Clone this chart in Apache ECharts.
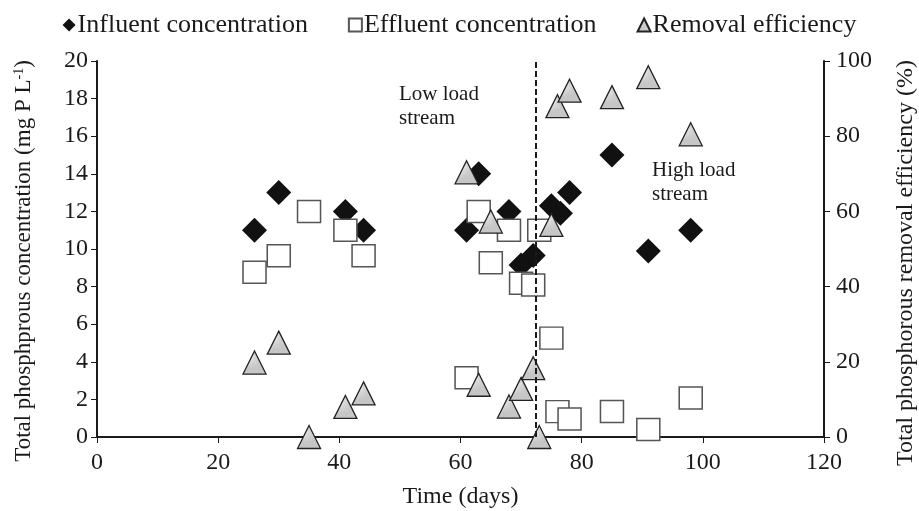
<!DOCTYPE html>
<html>
<head>
<meta charset="utf-8">
<script src="https://cdn.jsdelivr.net/npm/echarts@6/dist/echarts.min.js"></script>
<style>
  html, body { margin: 0; padding: 0; background: #fff; }
  #chart { width: 919px; height: 511px; }
</style>
</head>
<body>
<div id="chart"></div>
<script>
// days of sampling for each series
var influentDays = [26, 30, 41, 44, 61, 63, 68, 70, 72, 75, 76.5, 78, 85, 91, 98];
var influentConc = [11, 13, 12, 11, 11, 14, 12, 9.15, 9.65, 12.3, 11.9, 13, 15, 9.9, 11];

var effluentDays = [26, 30, 35, 41, 44, 61, 63, 65, 68, 70, 72, 73, 75, 76, 78, 85, 91, 98];
var effluentConc = [8.76, 9.64, 12, 11, 9.64, 3.15, 12, 9.27, 11, 8.18, 8.09, 11, 5.26, 1.35, 0.96, 1.36, 0.4, 2.07];

var removalDays = [26, 30, 35, 41, 44, 61, 63, 65, 68, 70, 72, 73, 75, 76, 78, 85, 91, 98];
var removalEff = [19.8, 25.1, 0, 8.0, 11.6, 70.4, 13.9, 57.3, 8.1, 12.8, 18.3, 0, 56.4, 88.0, 92.1, 90.4, 95.7, 80.5];

var switchDay = 72.5;

var xTicks = [0, 20, 40, 60, 80, 100, 120];
var concTicks = [0, 2, 4, 6, 8, 10, 12, 14, 16, 18, 20];
var effTicks = [0, 20, 40, 60, 80, 100];

function pairs(xs, ys) {
	var out = [];
	for (var i = 0; i < xs.length; i++) out.push([xs[i], ys[i]]);
	return out;
}

// dotted grey fill like the excel triangles
function dotPattern() {
	var c = document.createElement('canvas');
	c.width = 6; c.height = 4;
	var ctx = c.getContext('2d');
	ctx.fillStyle = '#c6c6c6';
	ctx.fillRect(0, 0, 6, 4);
	ctx.fillStyle = '#ececec';
	ctx.fillRect(1, 1, 2, 1);
	ctx.fillRect(4, 3, 2, 1);
	return c;
}

var font = 'Liberation Serif, Times New Roman, serif';
var ink = '#1a1a1a';
var chart = echarts.init(document.getElementById('chart'));
var triFill = { image: dotPattern(), repeat: 'repeat' };

chart.setOption({
	animation: false,
	textStyle: { fontFamily: font, color: ink },
	legend: {
		top: 7,
		left: 'center',
		itemWidth: 13,
		itemHeight: 13,
		itemGap: 40,
		textStyle: { fontFamily: font, fontSize: 26, color: ink, padding: [0, 0, 0, -3] },
		data: ['Influent concentration', 'Effluent concentration', 'Removal efficiency']
	},
	grid: { left: 97, right: 95, top: 61, bottom: 74, outerBoundsMode: 'none', containLabel: false },
	xAxis: {
		type: 'value',
		min: xTicks[0], max: xTicks[xTicks.length - 1], interval: 20,
		name: 'Time (days)',
		nameLocation: 'middle',
		nameGap: 48,
		nameTextStyle: { fontFamily: font, fontSize: 24, color: ink },
		axisLine: { onZero: false, lineStyle: { color: ink, width: 2 } },
		axisTick: { show: true, length: 6, lineStyle: { color: ink, width: 1 } },
		axisLabel: { fontFamily: font, fontSize: 24, color: ink, margin: 14 },
		splitLine: { show: false }
	},
	yAxis: [{
		type: 'value',
		min: concTicks[0], max: concTicks[concTicks.length - 1], interval: 2,
		name: 'Total phosphprous concentration (mg P L{sup|-1})',
		nameLocation: 'middle',
		nameGap: 61,
		nameTextStyle: {
			fontFamily: font, fontSize: 23, color: ink, padding: [0, 24, 0, 0],
			rich: { sup: { fontFamily: font, fontSize: 14, verticalAlign: 'top', padding: [0, 0, 10, 0] } }
		},
		axisLine: { show: true, lineStyle: { color: ink, width: 2 } },
		axisTick: { show: true, length: 6, lineStyle: { color: ink, width: 1 } },
		axisLabel: { fontFamily: font, fontSize: 24, color: ink, margin: 9 },
		splitLine: { show: false }
	}, {
		type: 'value',
		position: 'right',
		min: effTicks[0], max: effTicks[effTicks.length - 1], interval: 20,
		name: 'Total phosphorous removal efficiency (%)',
		nameLocation: 'middle',
		nameGap: 70,
		nameRotate: 90,
		nameTextStyle: { fontFamily: font, fontSize: 24, color: ink, padding: [0, 28, 0, 0] },
		axisLine: { show: true, lineStyle: { color: ink, width: 2 } },
		axisTick: { show: true, length: 6, lineStyle: { color: ink, width: 1 } },
		axisLabel: { fontFamily: font, fontSize: 24, color: ink, margin: 12 },
		splitLine: { show: false }
	}],
	graphic: [
		{ type: 'text', left: 399, top: 82, style: { text: 'Low load\nstream', font: '21px ' + font, fill: ink, lineHeight: 24 } },
		{ type: 'text', left: 652, top: 158, style: { text: 'High load\nstream', font: '21px ' + font, fill: ink, lineHeight: 24 } }
	],
	series: [{
		name: 'Influent concentration',
		type: 'scatter',
		yAxisIndex: 0,
		symbol: 'diamond',
		symbolSize: [25, 25],
		itemStyle: { color: '#111', opacity: 1 },
		data: pairs(influentDays, influentConc),
		markLine: {
			silent: true,
			symbol: ['none', 'none'],
			label: { show: false },
			lineStyle: { color: ink, type: [6, 3], width: 2 },
			data: [{ xAxis: switchDay }]
		}
	}, {
		name: 'Effluent concentration',
		type: 'scatter',
		yAxisIndex: 0,
		symbol: 'rect',
		symbolSize: [23, 22],
		itemStyle: { color: '#fff', borderColor: '#555', borderWidth: 1.5, opacity: 1 },
		data: pairs(effluentDays, effluentConc)
	}, {
		name: 'Removal efficiency',
		type: 'scatter',
		yAxisIndex: 1,
		symbol: 'triangle',
		symbolSize: [23, 23],
		itemStyle: { color: triFill, borderColor: '#222', borderWidth: 1.3, opacity: 1 },
		data: pairs(removalDays, removalEff)
	}]
});
</script>
</body>
</html>
